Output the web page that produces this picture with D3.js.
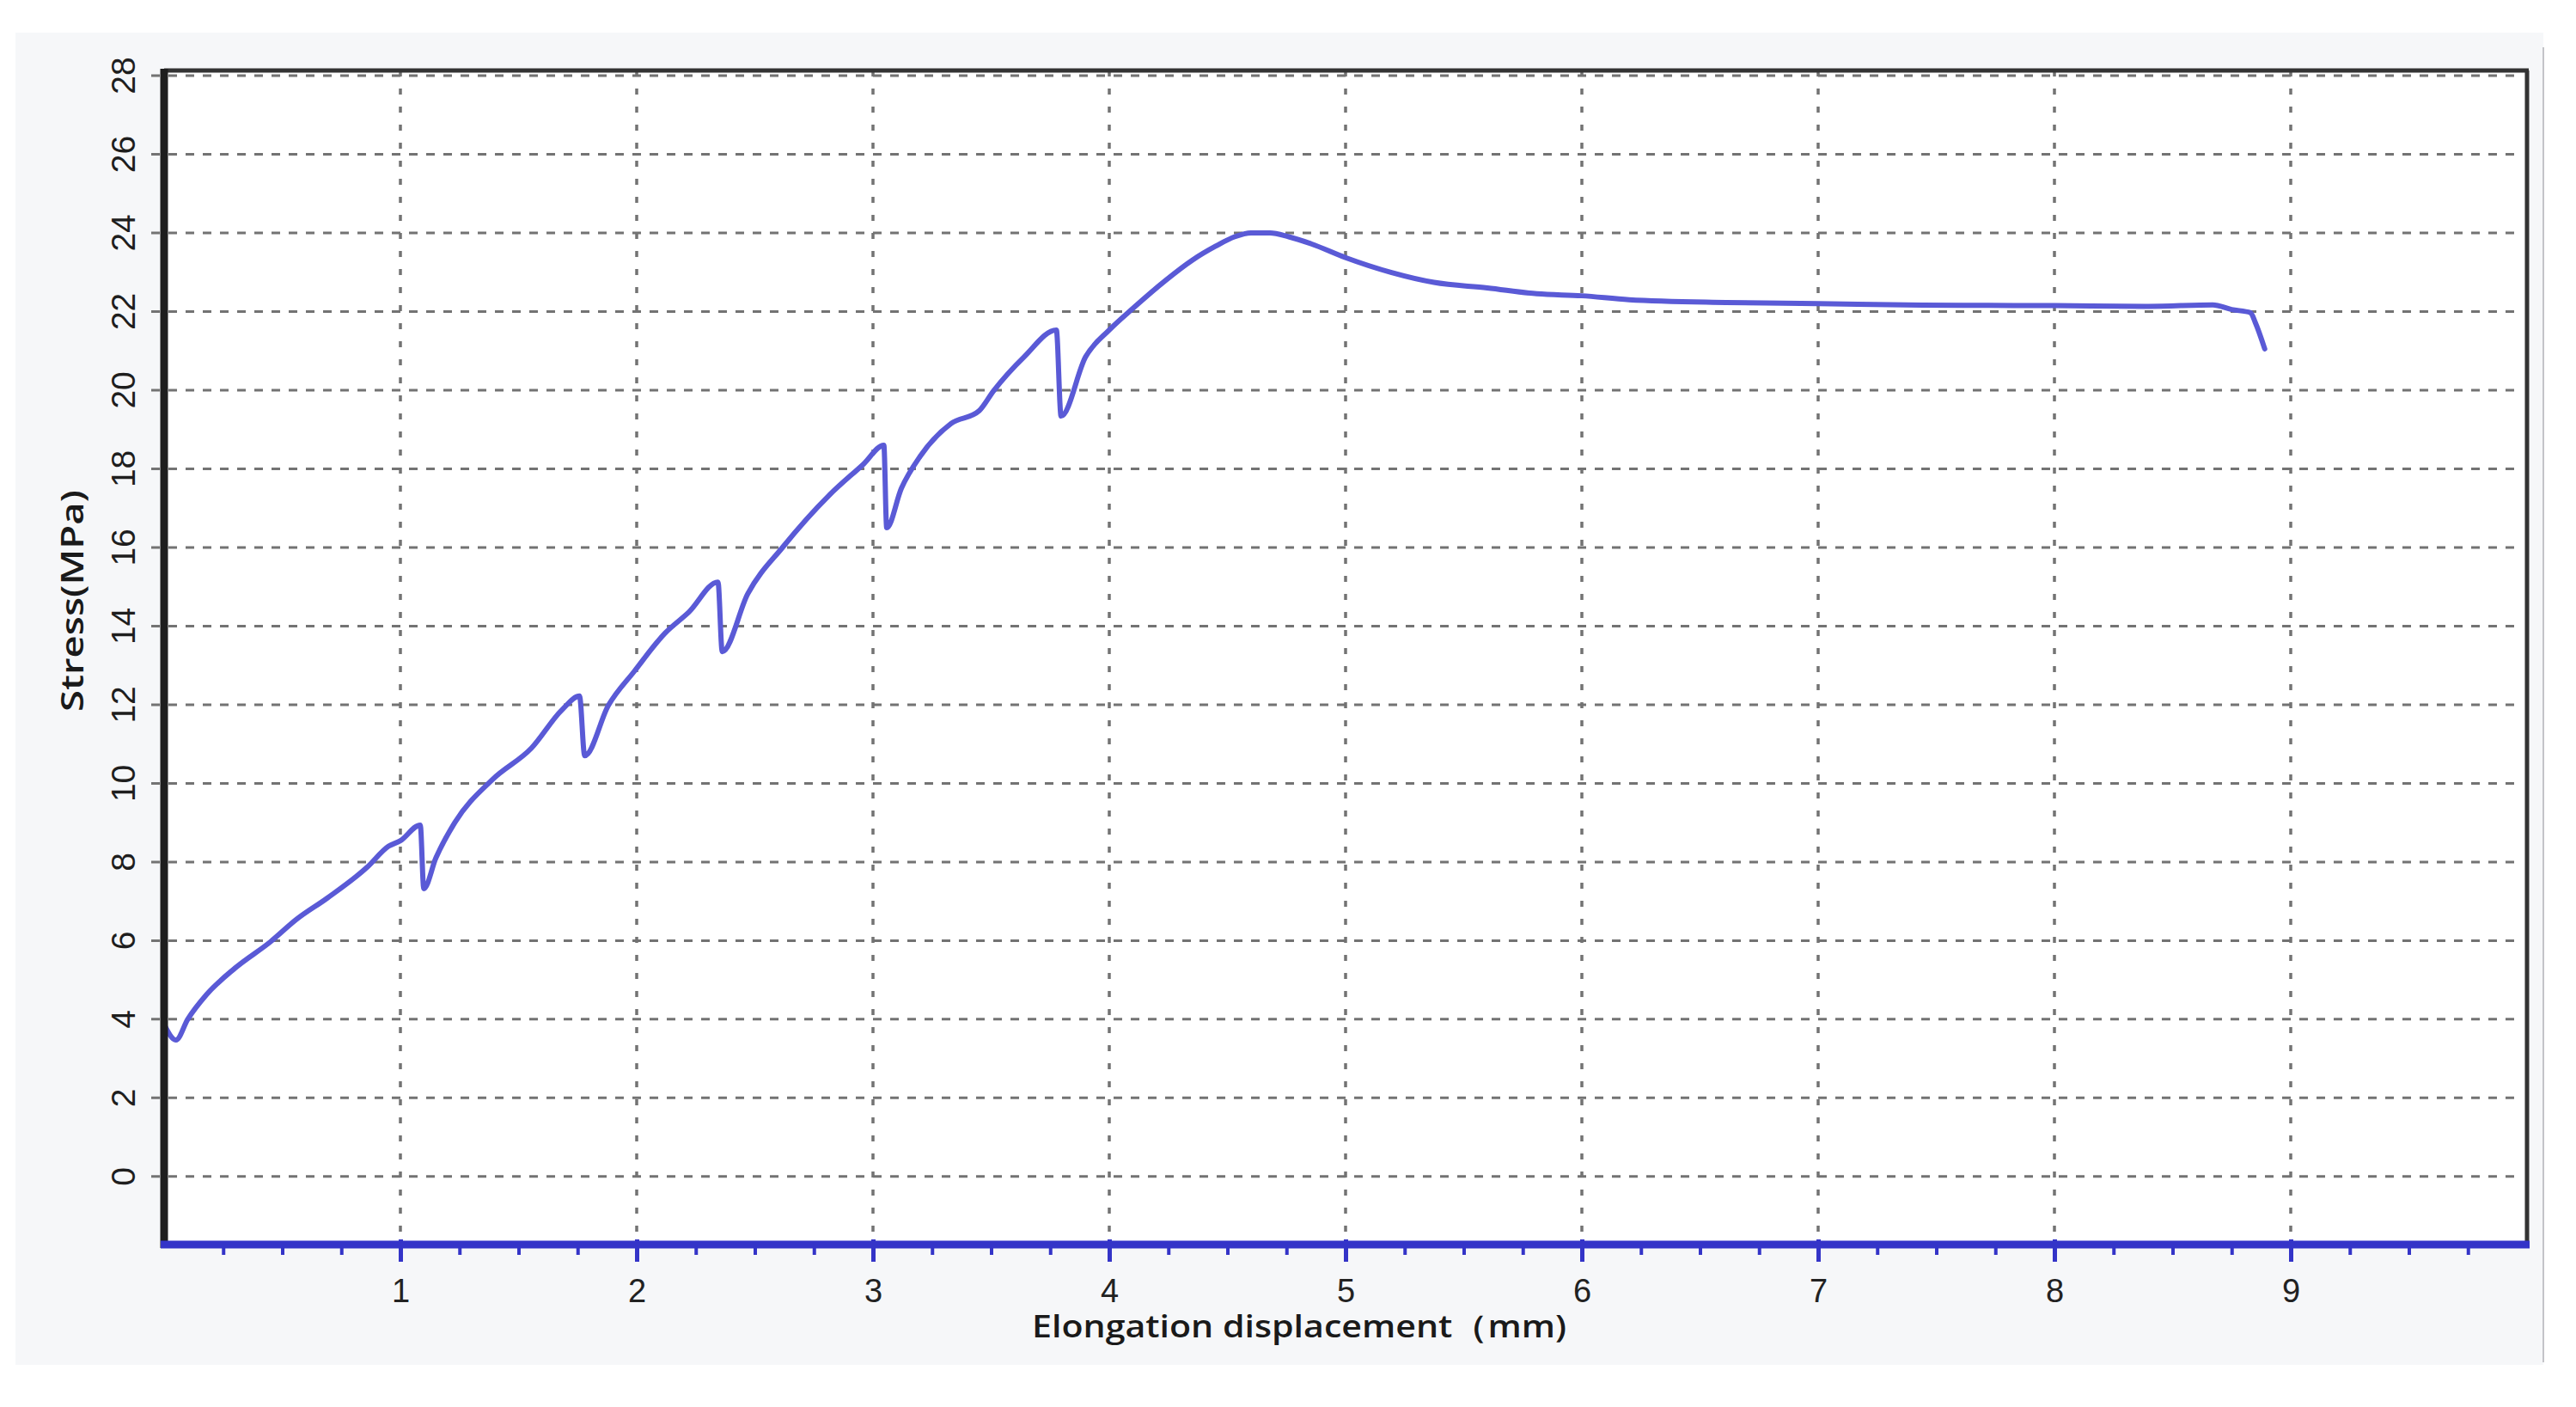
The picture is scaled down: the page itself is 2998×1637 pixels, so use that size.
<!DOCTYPE html>
<html>
<head>
<meta charset="utf-8">
<script src="https://cdn.jsdelivr.net/npm/d3@7"></script>
<style>
  html, body { margin: 0; padding: 0; background: #ffffff; }
  svg { display: block; }
</style>
</head>
<body>
<svg id="chart" width="2998" height="1637"></svg>
<script>
// ---- data ----
const displacement = [0, 0.05, 0.10, 0.18, 0.30, 0.45, 0.56, 0.69, 0.86, 0.95, 1.0, 1.084, 1.099, 1.15, 1.23, 1.39, 1.555, 1.684, 1.758, 1.78, 1.88, 1.99, 2.12, 2.22, 2.344, 2.362, 2.47, 2.62, 2.815, 2.96, 3.046, 3.058, 3.12, 3.20, 3.33, 3.45, 3.51, 3.64, 3.776, 3.796, 3.90, 4.0, 4.10, 4.24, 4.35, 4.45, 4.53, 4.60, 4.68, 4.76, 4.855, 5.0, 5.195, 5.374, 5.6, 5.81, 6.0, 6.2, 6.61, 7.0, 7.44, 8.0, 8.4, 8.67, 8.75, 8.83, 8.85, 8.89];
const stress = [3.87, 3.47, 4.0, 4.63, 5.3, 5.97, 6.54, 7.08, 7.87, 8.4, 8.54, 8.94, 7.32, 8.1, 9.0, 10.1, 10.9, 11.87, 12.22, 10.7, 11.98, 12.85, 13.82, 14.35, 15.12, 13.35, 14.82, 16.02, 17.33, 18.12, 18.6, 16.5, 17.5, 18.32, 19.15, 19.48, 19.98, 20.85, 21.53, 19.34, 20.85, 21.53, 22.08, 22.8, 23.3, 23.66, 23.9, 24.0, 24.0, 23.9, 23.72, 23.37, 22.99, 22.74, 22.6, 22.45, 22.4, 22.3, 22.23, 22.2, 22.16, 22.15, 22.13, 22.17, 22.05, 21.97, 21.72, 21.05];
const xTickValues = [1, 2, 3, 4, 5, 6, 7, 8, 9];
const yTickValues = [0, 2, 4, 6, 8, 10, 12, 14, 16, 18, 20, 22, 24, 26, 28];
const xTitle = "Elongation displacement（mm)";
const yTitle = "Stress(MPa)";

// ---- layout ----
const svg = d3.select("#chart");
const L = 191, R = 2941, T = 82, B = 1448;
const x = d3.scaleLinear().domain([0, 10]).range([L, R]);
const y = d3.scaleLinear().domain([-1.73, 28.13]).range([B, T]);

// outer panel
svg.append("rect").attr("x", 18).attr("y", 38).attr("width", 2942).attr("height", 1550)
  .attr("fill", "#f6f7f9");
svg.append("line").attr("x1", 2960).attr("x2", 2960).attr("y1", 55).attr("y2", 1585)
  .attr("stroke", "#c4c4c8").attr("stroke-width", 2);
// plot area
svg.append("rect").attr("x", L).attr("y", T).attr("width", R - L).attr("height", B - T)
  .attr("fill", "#ffffff");

// horizontal grid (also serves as y ticks, extending left of axis)
svg.append("g").selectAll("line").data(yTickValues).join("line")
  .attr("x1", L - 15).attr("x2", R - 10)
  .attr("y1", d => y(d)).attr("y2", d => y(d))
  .attr("stroke", "#737373").attr("stroke-width", 3)
  .attr("stroke-dasharray", "10,10");

// vertical grid
svg.append("g").selectAll("line").data(xTickValues).join("line")
  .attr("x1", d => x(d)).attr("x2", d => x(d))
  .attr("y1", T).attr("y2", B)
  .attr("stroke", "#737373").attr("stroke-width", 3.5)
  .attr("stroke-dasharray", "7,14");

// top & right borders
svg.append("line").attr("x1", L).attr("x2", R + 2).attr("y1", T).attr("y2", T)
  .attr("stroke", "#333333").attr("stroke-width", 5);
svg.append("line").attr("x1", R).attr("x2", R).attr("y1", T).attr("y2", B)
  .attr("stroke", "#333333").attr("stroke-width", 5);

// the curve
const line = d3.line()
  .x((d, i) => x(displacement[i]))
  .y((d, i) => y(stress[i]))
  .curve(d3.curveMonotoneX);
svg.append("path").datum(stress)
  .attr("d", line)
  .attr("fill", "none")
  .attr("stroke", "#5a5ad6")
  .attr("stroke-width", 6)
  .attr("stroke-linejoin", "round")
  .attr("stroke-linecap", "round");

// left axis (black)
svg.append("line").attr("x1", L).attr("x2", L).attr("y1", T - 2).attr("y2", B + 4)
  .attr("stroke", "#1e1e1e").attr("stroke-width", 9);

// bottom axis (blue) built with d3.axisBottom
const minorTicks = d3.range(0.25, 10, 0.25).filter(v => Math.abs(v - Math.round(v)) > 1e-6);
const gMinor = svg.append("g").attr("transform", `translate(0,${B})`)
  .call(d3.axisBottom(x).tickValues(minorTicks).tickSize(12).tickFormat(""));
gMinor.select(".domain").remove();
gMinor.selectAll(".tick line").attr("stroke", "#3434c8").attr("stroke-width", 4);

const gMajor = svg.append("g").attr("transform", `translate(0,${B})`)
  .call(d3.axisBottom(x).tickValues(xTickValues).tickSize(20).tickPadding(20).tickFormat(d3.format("d")));
gMajor.select(".domain").remove();
gMajor.selectAll(".tick line").attr("stroke", "#3434c8").attr("stroke-width", 5).attr("y1", -6);
gMajor.selectAll(".tick text")
  .attr("font-family", "Liberation Sans, Arial, sans-serif")
  .attr("font-size", 38).attr("fill", "#222222");

svg.append("line").attr("x1", L - 4).attr("x2", R + 3).attr("y1", B).attr("y2", B)
  .attr("stroke", "#3434c8").attr("stroke-width", 9);

// y tick labels (rotated)
svg.append("g").selectAll("text").data(yTickValues).join("text")
  .attr("transform", d => `translate(157,${y(d)}) rotate(-90)`)
  .attr("text-anchor", "middle")
  .attr("font-family", "Liberation Sans, Arial, sans-serif")
  .attr("font-size", 39).attr("fill", "#1e1e1e")
  .text(d => d);

// axis titles
svg.append("text")
  .attr("x", 1512).attr("y", 1556)
  .attr("text-anchor", "middle")
  .attr("font-family", "Open Sans, Noto Sans, sans-serif")
  .attr("font-weight", 600)
  .attr("font-size", 36).attr("fill", "#1a1a1a")
  .attr("textLength", 622).attr("lengthAdjust", "spacingAndGlyphs")
  .text(xTitle);

svg.append("text")
  .attr("transform", "translate(97,699) rotate(-90)")
  .attr("text-anchor", "middle")
  .attr("font-family", "Open Sans, Noto Sans, sans-serif")
  .attr("font-weight", 600)
  .attr("font-size", 36).attr("fill", "#1a1a1a")
  .attr("textLength", 258).attr("lengthAdjust", "spacingAndGlyphs")
  .text(yTitle);
</script>
</body>
</html>
